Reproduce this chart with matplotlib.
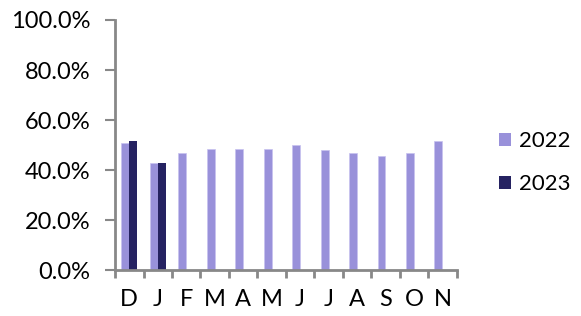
import matplotlib
matplotlib.use("Agg")
import matplotlib.pyplot as plt
import numpy as np
from matplotlib.ticker import FuncFormatter
from matplotlib.patches import Patch

months = ["D", "J", "F", "M", "A", "M", "J", "J", "A", "S", "O", "N"]
s2022 = [50.9, 42.7, 46.8, 48.5, 48.3, 48.5, 49.9, 48.1, 46.7, 45.5, 46.7, 51.6]
s2023 = [51.7, 42.9, None, None, None, None, None, None, None, None, None, None]
series_names = ["2022", "2023"]
colors = ["#9991da", "#252261"]

plt.rcParams['font.family'] = ['Lato', 'DejaVu Sans']

fig = plt.figure(figsize=(5.81, 3.16), dpi=100)
ax = fig.add_axes([0.198, 0.144, 0.588, 0.793])

x = np.arange(len(months))
w = 0.28
ax.bar(x - w/2, s2022, width=w, color=colors[0], edgecolor="#c8c2f0", linewidth=0.5)
x23 = [xi for xi, v in zip(x, s2023) if v is not None]
v23 = [v for v in s2023 if v is not None]
ax.bar(np.array(x23) + w/2, v23, width=w, color=colors[1])

ax.set_xlim(-0.5, len(months) - 0.5)
ax.set_ylim(0, 100)
ax.set_yticks(np.arange(0, 101, 20))
ax.yaxis.set_major_formatter(FuncFormatter(lambda v, p: f"{v:.1f}%"))

ax.set_xticks(np.arange(-0.5, len(months), 1))
ax.set_xticklabels([])
ax.set_xticks(x, minor=True)
ax.set_xticklabels(months, minor=True)
ax.tick_params(axis='x', which='minor', length=0, labelsize=17, pad=13, colors="#000000")
ax.tick_params(axis='x', which='major', length=6, width=2, color="#888888", direction='out')
ax.tick_params(axis='y', length=7, width=1.5, color="#888888", labelsize=17, pad=11)

for s in ["top", "right"]:
    ax.spines[s].set_visible(False)
for s in ["left", "bottom"]:
    ax.spines[s].set_color("#888888")
    ax.spines[s].set_linewidth(2)

handles = [Patch(facecolor=c, label=n) for c, n in zip(colors, series_names)]
fig.legend(handles=handles, loc="center left", bbox_to_anchor=(0.859, 0.485),
           frameon=False, fontsize=16, handlelength=0.55, handleheight=0.55,
           handletextpad=0.35, labelspacing=1.05, borderpad=0, borderaxespad=0)

fig.savefig("out.png", dpi=100)
